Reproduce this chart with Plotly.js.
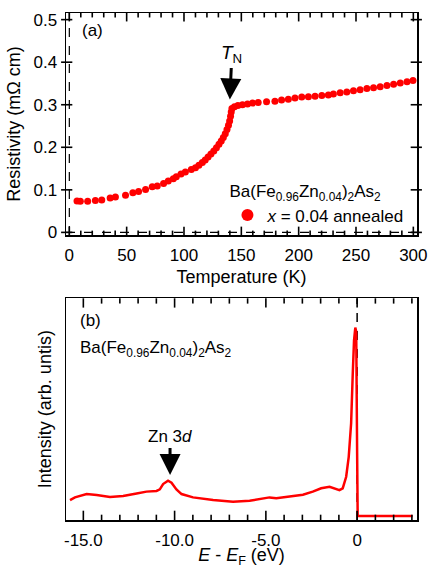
<!DOCTYPE html>
<html>
<head>
<meta charset="utf-8">
<script src="https://cdn.plot.ly/plotly-3.0.1.min.js"></script>
<style>html,body{margin:0;padding:0;background:#fff;}#chart{width:430px;height:568px;}</style>
</head>
<body>
<div id="chart"></div>
<script>
// Panel (a): resistivity vs temperature
const temperatureK = [6.7, 9.6, 16, 22.7, 28.3, 35.6, 40.2, 49, 55.4, 60.4, 66.5, 72.3, 76.7, 82.2, 86.3, 90.7, 93.3, 97.4, 101.2, 106.4, 110, 113, 116, 118.5, 121, 123.5, 126, 128.3, 130.5, 132.5, 134.3, 136, 137.5, 138.8, 139.8, 140.6, 141.2, 141.8, 144, 147, 151, 155.4, 159.8, 164.7, 172, 179.3, 185.1, 191, 196.8, 202.7, 208.5, 214.3, 220.2, 225.9, 230.3, 236.2, 242, 247.8, 253.6, 259.5, 265.3, 271.1, 277, 282.8, 288.6, 294.5, 299.7];
const resistivity = [0.074, 0.073, 0.073, 0.075, 0.076, 0.081, 0.083, 0.087, 0.093, 0.096, 0.101, 0.107, 0.109, 0.115, 0.121, 0.126, 0.131, 0.137, 0.142, 0.148, 0.152, 0.158, 0.164, 0.170, 0.177, 0.184, 0.191, 0.199, 0.207, 0.215, 0.223, 0.232, 0.242, 0.252, 0.262, 0.273, 0.283, 0.291, 0.295, 0.298, 0.300, 0.302, 0.304, 0.305, 0.307, 0.308, 0.311, 0.313, 0.316, 0.318, 0.319, 0.320, 0.322, 0.323, 0.325, 0.328, 0.330, 0.333, 0.335, 0.338, 0.340, 0.342, 0.345, 0.348, 0.351, 0.354, 0.357];

// Panel (b): photoemission spectrum
const energyEv = [-15.73, -15.46, -14.82, -14.27, -13.54, -12.82, -12.08, -11.54, -10.99, -10.81, -10.63, -10.36, -10.17, -9.90, -9.62, -8.99, -7.89, -6.80, -5.89, -5.16, -4.80, -4.43, -3.70, -2.97, -2.43, -1.97, -1.51, -1.24, -0.97, -0.79, -0.60, -0.46, -0.33, -0.24, -0.17, -0.10, -0.05, 0.0, 0.03, 1.0, 2.0, 3.04];
const intensity = [0.090, 0.102, 0.117, 0.113, 0.104, 0.108, 0.120, 0.128, 0.131, 0.138, 0.162, 0.177, 0.168, 0.138, 0.117, 0.102, 0.090, 0.082, 0.087, 0.098, 0.102, 0.098, 0.105, 0.114, 0.128, 0.143, 0.150, 0.143, 0.135, 0.143, 0.195, 0.285, 0.435, 0.66, 0.81, 0.868, 0.85, 0.30, 0.018, 0.018, 0.018, 0.018];

const xTicksA = [0, 50, 100, 150, 200, 250, 300];
const yTicksA = [0, 0.1, 0.2, 0.3, 0.4, 0.5];
const yTickTextA = ['0', '0.1', '0.2', '0.3', '0.4', '0.5'];
const xTicksB = [-15, -10, -5, 0];
const xTickTextB = ['-15.0', '-10.0', '-5.0', '0'];

// minor tick positions (axis decoration)
const minorA = [];
for (let t = 0; t <= 300; t += 10) if (t % 50 !== 0) minorA.push(t);
const minorB = [];
for (let e = -15; e <= 3; e += 1) if (Math.abs(e % 5) !== 0) minorB.push(e);

const FONT = 'Liberation Sans, Arial, sans-serif';

const traces = [
  {
    x: temperatureK, y: resistivity, xaxis: 'x', yaxis: 'y',
    type: 'scatter', mode: 'markers',
    marker: {color: '#ff0000', size: 7},
    name: '<i>x</i> = 0.04 annealed', showlegend: true
  },
  {
    x: energyEv, y: intensity, xaxis: 'x2', yaxis: 'y2',
    type: 'scatter', mode: 'lines',
    line: {color: '#ff0000', width: 2.5},
    showlegend: false
  }
];

// frame tick marks drawn as shapes (decoration, tied to axis values)
const tickShapes = [];
const tickStyle = {color: '#000000', width: 1.6};
function xTick(xref, ydom, val, frac) {
  tickShapes.push({type: 'line', xref: xref, yref: ydom, x0: val, x1: val, y0: 0, y1: frac, line: tickStyle, layer: 'above'});
  tickShapes.push({type: 'line', xref: xref, yref: ydom, x0: val, x1: val, y0: 1, y1: 1 - frac, line: tickStyle, layer: 'above'});
}
xTicksA.forEach(v => xTick('x', 'y domain', v, 0.038));
minorA.forEach(v => xTick('x', 'y domain', v, 0.02));
xTicksB.forEach(v => xTick('x2', 'y2 domain', v, 0.042));
minorB.forEach(v => xTick('x2', 'y2 domain', v, 0.024));
yTicksA.forEach(v => {
  tickShapes.push({type: 'line', xref: 'paper', yref: 'y', x0: -0.014, x1: 0.018, y0: v, y1: v, line: tickStyle, layer: 'above'});
  tickShapes.push({type: 'line', xref: 'paper', yref: 'y', x0: 0.982, x1: 1.014, y0: v, y1: v, line: tickStyle, layer: 'above'});
});

const axisCommon = {
  showgrid: false, zeroline: false, showline: true, linecolor: '#000', linewidth: 1.5,
  mirror: true, ticks: '',
  tickfont: {family: FONT, size: 17, color: '#000'}
};

const layout = {
  width: 430, height: 568,
  margin: {l: 66, r: 13, t: 13, b: 48},
  paper_bgcolor: '#fff', plot_bgcolor: '#fff',
  font: {family: FONT, color: '#000', size: 17},
  showlegend: true,
  legend: {
    x: 0.46, y: 0.68, xanchor: 'left', yanchor: 'top',
    bgcolor: 'rgba(0,0,0,0)', borderwidth: 0, itemsizing: 'constant',
    font: {family: FONT, size: 17, color: '#000'},
    title: {text: 'Ba(Fe<sub>0.96</sub>Zn<sub>0.04</sub>)<sub>2</sub>As<sub>2</sub>', font: {family: FONT, size: 17, color: '#000'}}
  },
  xaxis: Object.assign({}, axisCommon, {
    domain: [0, 1], anchor: 'y', range: [-2.9, 303.2],
    tickmode: 'array', tickvals: xTicksA, ticklabelstandoff: 4,
    title: {text: 'Temperature (K)', font: {family: FONT, size: 18, color: '#000'}, standoff: 6}
  }),
  yaxis: Object.assign({}, axisCommon, {
    domain: [0.562, 1], anchor: 'x', range: [-0.0063, 0.5156],
    tickmode: 'array', tickvals: yTicksA, ticktext: yTickTextA, ticklabelstandoff: 4,
    title: {text: 'Resistivity (mΩ cm)', font: {family: FONT, size: 18, color: '#000'}, standoff: 8}
  }),
  xaxis2: Object.assign({}, axisCommon, {
    domain: [0, 1], anchor: 'y2', range: [-15.95, 3.28],
    tickmode: 'array', tickvals: xTicksB, ticktext: xTickTextB, ticklabelstandoff: 4,
    title: {text: '<i>E</i> - <i>E</i><sub>F</sub> (eV)', font: {family: FONT, size: 18, color: '#000'}, standoff: 9}
  }),
  yaxis2: {
    domain: [0, 0.4373], anchor: 'x2', range: [0, 1],
    showgrid: false, zeroline: false, showline: true, linecolor: '#000', linewidth: 1.5,
    mirror: true, ticks: '', showticklabels: false,
    title: {text: 'Intensity (arb. untis)', font: {family: FONT, size: 18, color: '#000'}, standoff: 8}
  },
  shapes: [
    {type: 'line', xref: 'x', yref: 'y domain', x0: 0, x1: 0, y0: 0, y1: 1, line: {color: '#000', width: 1.2, dash: 'dash'}, layer: 'below'},
    {type: 'line', xref: 'x domain', yref: 'y', x0: 0, x1: 1, y0: 0, y1: 0, line: {color: '#000', width: 1.2, dash: 'dash'}, layer: 'below'},
    {type: 'line', xref: 'x2', yref: 'y2 domain', x0: 0, x1: 0, y0: 0, y1: 1, line: {color: '#000', width: 1.5, dash: 'dash'}, layer: 'below'}
  ].concat(tickShapes),
  annotations: [
    {xref: 'x', yref: 'y', x: 140, y: 0.3124, text: '<i>T</i><sub>N</sub>', showarrow: true,
     arrowhead: 2, arrowsize: 1.4, arrowwidth: 3, arrowcolor: '#000', ax: 2, ay: -45,
     font: {family: FONT, size: 19, color: '#000'}},
    {xref: 'x2', yref: 'y2', x: -10.25, y: 0.203, text: 'Zn 3<i>d</i>', showarrow: true,
     arrowhead: 2, arrowsize: 1.4, arrowwidth: 3, arrowcolor: '#000', ax: 0, ay: -38,
     font: {family: FONT, size: 17, color: '#000'}},
    {xref: 'x domain', yref: 'y domain', x: 0.04, y: 0.92, xanchor: 'left', yanchor: 'middle',
     text: '(a)', showarrow: false, font: {family: FONT, size: 17, color: '#000'}},
    {xref: 'x2 domain', yref: 'y2 domain', x: 0.035, y: 0.9, xanchor: 'left', yanchor: 'middle',
     text: '(b)', showarrow: false, font: {family: FONT, size: 17, color: '#000'}},
    {xref: 'x2 domain', yref: 'y2 domain', x: 0.035, y: 0.77, xanchor: 'left', yanchor: 'middle',
     text: 'Ba(Fe<sub>0.96</sub>Zn<sub>0.04</sub>)<sub>2</sub>As<sub>2</sub>', showarrow: false, font: {family: FONT, size: 17, color: '#000'}}
  ]
};

Plotly.newPlot('chart', traces, layout, {staticPlot: true, displayModeBar: false});
</script>
</body>
</html>
